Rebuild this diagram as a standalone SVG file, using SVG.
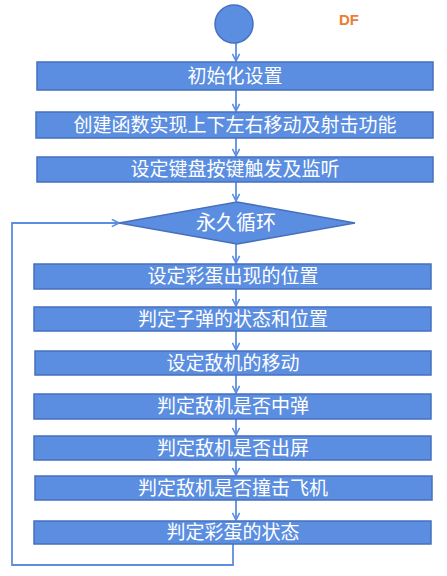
<svg xmlns="http://www.w3.org/2000/svg" width="447" height="576" viewBox="0 0 447 576">
<defs>
<style>
.box{fill:#5B8EE0;stroke:#4670BE;stroke-width:1.5}
.t{font-family:"Microsoft YaHei","Noto Sans CJK SC",sans-serif;font-size:19px;fill:#fff;text-anchor:middle}
.c{fill:none;stroke:#5B8EE0;stroke-width:1.8}
</style>
<marker id="a" viewBox="0 0 10 10" refX="9" refY="5" markerWidth="9" markerHeight="9" markerUnits="userSpaceOnUse" orient="auto">
<path d="M1,1 L9,5 L1,9" fill="none" stroke="#5B8EE0" stroke-width="1.8"/>
</marker>
</defs>
<rect width="447" height="576" fill="#fff"/>
<text x="349" y="25" font-family="'Liberation Sans',Arial,sans-serif" font-size="15" font-weight="bold" fill="#ED7D31" text-anchor="middle">DF</text>
<g id="connectors">
<line class="c" x1="236" y1="43" x2="236" y2="61" marker-end="url(#a)"/>
<line class="c" x1="236" y1="90" x2="236" y2="111" marker-end="url(#a)"/>
<line class="c" x1="236" y1="138" x2="236" y2="156" marker-end="url(#a)"/>
<line class="c" x1="236" y1="182" x2="236" y2="201" marker-end="url(#a)"/>
<line class="c" x1="236" y1="244" x2="236" y2="263" marker-end="url(#a)"/>
<line class="c" x1="236" y1="289" x2="236" y2="306" marker-end="url(#a)"/>
<line class="c" x1="236" y1="331" x2="236" y2="350" marker-end="url(#a)"/>
<line class="c" x1="236" y1="375" x2="236" y2="393" marker-end="url(#a)"/>
<line class="c" x1="236" y1="419" x2="236" y2="435" marker-end="url(#a)"/>
<line class="c" x1="236" y1="460" x2="236" y2="475" marker-end="url(#a)"/>
<line class="c" x1="236" y1="500" x2="236" y2="520" marker-end="url(#a)"/>
<polyline class="c" points="233,544 233,565 12,565 12,223 119,223" marker-end="url(#a)"/>
</g>
<g id="start"><circle cx="234" cy="24" r="19" class="box"/></g>
<g id="n1"><rect class="box" x="37" y="62" width="396" height="28"/><text class="t" x="235" y="83">初始化设置</text></g>
<g id="n2"><rect class="box" x="36" y="112" width="397" height="26"/><text class="t" x="235" y="132">创建函数实现上下左右移动及射击功能</text></g>
<g id="n3"><rect class="box" x="37" y="157" width="396" height="25"/><text class="t" x="235" y="176">设定键盘按键触发及监听</text></g>
<g id="loop"><polygon class="box" points="237,202 355,223 237,244 119,223"/><text class="t" x="236" y="230" style="font-size:20px">永久循环</text></g>
<g id="n4"><rect class="box" x="34" y="264" width="397" height="25"/><text class="t" x="233" y="283">设定彩蛋出现的位置</text></g>
<g id="n5"><rect class="box" x="34" y="307" width="397" height="24"/><text class="t" x="233" y="326">判定子弹的状态和位置</text></g>
<g id="n6"><rect class="box" x="35" y="351" width="396" height="24"/><text class="t" x="233" y="370">设定敌机的移动</text></g>
<g id="n7"><rect class="box" x="34" y="394" width="397" height="25"/><text class="t" x="233" y="413">判定敌机是否中弹</text></g>
<g id="n8"><rect class="box" x="34" y="436" width="397" height="24"/><text class="t" x="233" y="455">判定敌机是否出屏</text></g>
<g id="n9"><rect class="box" x="35" y="476" width="397" height="24"/><text class="t" x="233" y="495">判定敌机是否撞击飞机</text></g>
<g id="n10"><rect class="box" x="34" y="521" width="397" height="23"/><text class="t" x="233" y="539">判定彩蛋的状态</text></g>
</svg>
